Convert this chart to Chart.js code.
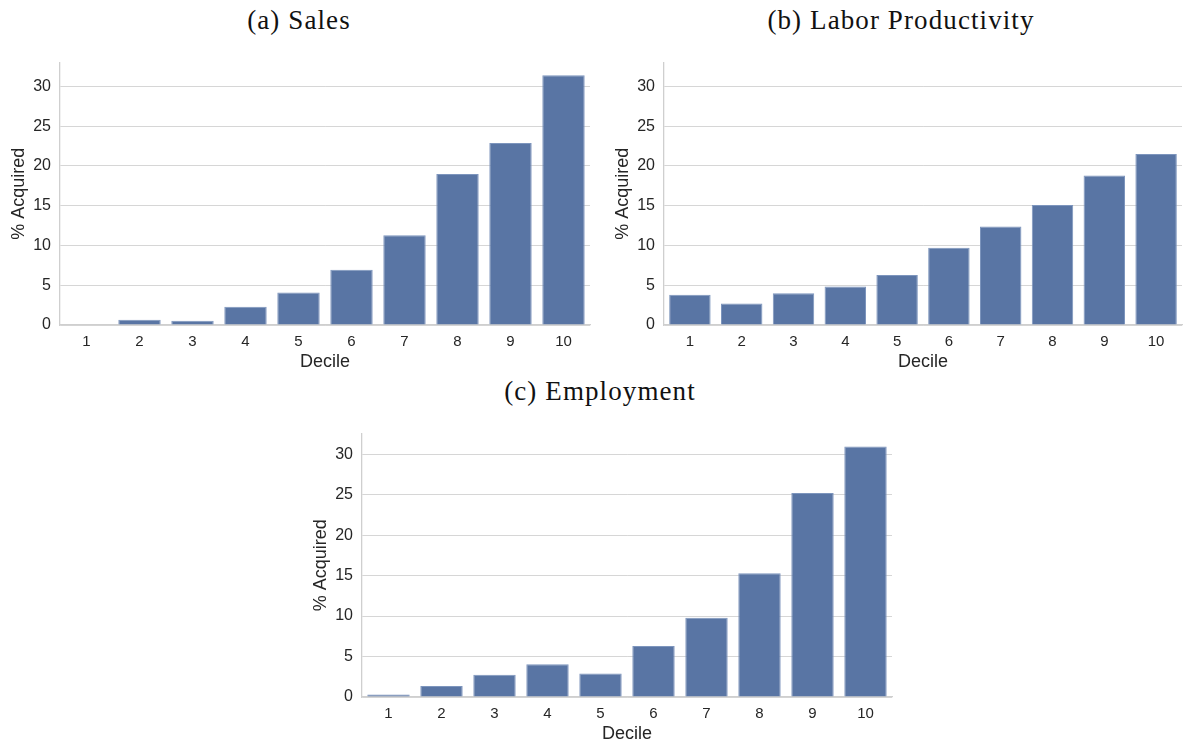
<!DOCTYPE html>
<html>
<head>
<meta charset="utf-8">
<script src="https://cdn.jsdelivr.net/npm/chart.js@4"></script>
<style>
  body { margin: 0; background: #fff; width: 1192px; height: 742px; position: relative; overflow: hidden; }
  .cap { position: absolute; font-family: "Liberation Serif", serif; font-size: 27px; letter-spacing: 1.1px; color: #111; transform: translateX(-50%); white-space: nowrap; }
  canvas { position: absolute; }
</style>
</head>
<body>
<div class="cap" style="left:299px; top:5px;">(a) Sales</div>
<div class="cap" style="left:901px; top:5px;">(b) Labor Productivity</div>
<div class="cap" style="left:600px; top:376px;">(c) Employment</div>
<canvas id="chart-sales" width="600" height="333" style="left:0px; top:44px;"></canvas>
<canvas id="chart-prod" width="588" height="333" style="left:604px; top:44px;"></canvas>
<canvas id="chart-emp" width="600" height="334" style="left:302px; top:415px;"></canvas>
<script>
// deciles on the x axis
var deciles = ['1', '2', '3', '4', '5', '6', '7', '8', '9', '10'];

// % acquired per decile
var salesValues = [0.0, 0.65, 0.55, 2.3, 4.1, 6.95, 11.3, 19.0, 22.9, 31.4];
var productivityValues = [3.8, 2.7, 4.0, 4.85, 6.3, 9.7, 12.4, 15.1, 18.8, 21.5];
var employmentValues = [0.3, 1.35, 2.75, 4.05, 2.9, 6.3, 9.8, 15.3, 25.2, 30.95];

var yTicks = [0, 5, 10, 15, 20, 25, 30];

var barColor = '#5975a4';
var textColor = '#262626';
var lineColor = '#d6d6d6';

function makeChart(id, values, yMax) {
    var ctx = document.getElementById(id).getContext('2d');
    return new Chart(ctx, {
        type: 'bar',
        data: {
            labels: deciles,
            datasets: [{
                data: values,
                backgroundColor: barColor,
                borderColor: '#7d95bd',
                borderWidth: 1,
                barPercentage: 0.8,
                categoryPercentage: 1.0
            }]
        },
        options: {
            responsive: false,
            animation: false,
            layout: { padding: { top: 2, right: 10, left: 4, bottom: 0 } },
            plugins: { legend: { display: false }, tooltip: { enabled: false } },
            scales: {
                x: {
                    grid: { display: false, drawTicks: false },
                    border: { display: true, color: '#cfcfcf', width: 1.3 },
                    ticks: { color: textColor, font: { family: 'Liberation Sans', size: 15 }, padding: 8 },
                    title: { display: true, text: 'Decile', color: textColor, font: { family: 'Liberation Sans', size: 18 }, padding: { top: 0 } },
                    afterFit: function (s) { s.height = 52; }
                },
                y: {
                    min: 0,
                    max: yMax,
                    afterBuildTicks: function (s) {
                        s.ticks = yTicks.map(function (v) { return { value: v }; });
                    },
                    grid: { color: lineColor, lineWidth: 1, drawTicks: false },
                    border: { display: true, color: '#cfcfcf', width: 1.3 },
                    ticks: { color: textColor, font: { family: 'Liberation Sans', size: 16 }, padding: 9 },
                    title: { display: true, text: '% Acquired', color: textColor, font: { family: 'Liberation Sans', size: 18 }, padding: { bottom: 2 } },
                    afterFit: function (s) { s.width = 56; }
                }
            }
        }
    });
}

makeChart('chart-sales', salesValues, 33);
makeChart('chart-prod', productivityValues, 33);
makeChart('chart-emp', employmentValues, 32.55);
</script>
</body>
</html>
